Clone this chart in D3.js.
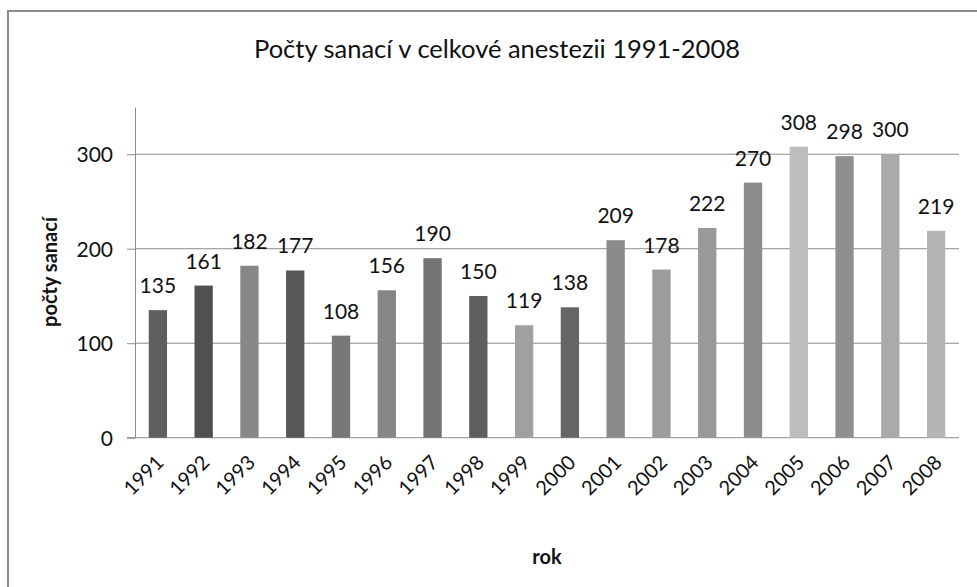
<!DOCTYPE html>
<html>
<head>
<meta charset="utf-8">
<script src="https://cdn.jsdelivr.net/npm/d3@7"></script>
<style>
  html, body { margin: 0; padding: 0; background: #fff; }
  svg { display: block; font-family: Lato, "Open Sans", sans-serif; }
</style>
</head>
<body>
<svg id="chart" width="977" height="587"></svg>
<script>
// Počty sanací v celkové anestezii, po letech
const years = ["1991","1992","1993","1994","1995","1996","1997","1998","1999",
               "2000","2001","2002","2003","2004","2005","2006","2007","2008"];
const counts = [135, 161, 182, 177, 108, 156, 190, 150, 119,
                138, 209, 178, 222, 270, 308, 298, 300, 219];
const barColors = ["#5f5f5f","#505050","#888888","#575757","#777777","#868686","#747474","#5e5e5e","#a0a0a0",
                   "#656565","#8a8a8a","#9c9c9c","#999999","#8c8c8c","#bdbdbd","#8f8f8f","#aaaaaa","#b5b5b5"];
const yTicks = [0, 100, 200, 300];

const titleText = "Počty sanací v celkové anestezii 1991-2008";
const yTitle = "počty sanací";
const xTitle = "rok";

const svg = d3.select("#chart");

// frame of the chart area
svg.append("line").attr("x1", 7).attr("x2", 977).attr("y1", 11).attr("y2", 11)
  .attr("stroke", "#8a8a8a").attr("stroke-width", 2);
svg.append("line").attr("x1", 8).attr("x2", 8).attr("y1", 10).attr("y2", 587)
  .attr("stroke", "#8a8a8a").attr("stroke-width", 2);

const plot = { left: 135, right: 959, top: 107, bottom: 437.7 };

const x = d3.scaleBand().domain(years)
  .range([plot.left, plot.right])
  .paddingInner(0.6).paddingOuter(0.3);
const y = d3.scaleLinear().domain([0, 350]).range([plot.bottom, plot.top]);

// horizontal gridlines
svg.append("g").selectAll("line").data(yTicks.filter(d => d > 0)).join("line")
  .attr("x1", plot.left).attr("x2", plot.right)
  .attr("y1", d => y(d)).attr("y2", d => y(d))
  .attr("stroke", "#8c8c8c").attr("stroke-width", 1);

// y axis
const yAxis = svg.append("g")
  .attr("transform", `translate(${plot.left},0)`)
  .call(d3.axisLeft(y).tickValues(yTicks).tickSize(8).tickPadding(14).tickSizeOuter(0));
yAxis.select(".domain").attr("stroke", "#8c8c8c");
yAxis.selectAll(".tick line").attr("stroke", "#8c8c8c");
yAxis.selectAll(".tick text")
  .attr("font-family", "Lato, sans-serif")
  .attr("font-size", 21).attr("fill", "#111").attr("dy", "0.36em");

// x axis line (extends left to the 0 tick)
svg.append("line")
  .attr("x1", plot.left - 8).attr("x2", plot.right)
  .attr("y1", y(0)).attr("y2", y(0))
  .attr("stroke", "#8c8c8c").attr("stroke-width", 1);

// bars
svg.append("g").selectAll("rect").data(counts).join("rect")
  .attr("x", (d, i) => x(years[i]))
  .attr("width", x.bandwidth())
  .attr("y", d => y(d))
  .attr("height", d => y(0) - y(d))
  .attr("fill", (d, i) => barColors[i]);

// value labels
svg.append("g").selectAll("text").data(counts).join("text")
  .attr("x", (d, i) => x(years[i]) + x.bandwidth() / 2)
  .attr("y", d => y(d) - 17)
  .attr("text-anchor", "middle")
  .attr("font-size", 21).attr("fill", "#111")
  .text(d => d);

// category labels, rotated
svg.append("g").selectAll("text").data(years).join("text")
  .attr("transform", d => `translate(${x(d) + x.bandwidth() / 2 + 7},${y(0) + 26}) rotate(-45)`)
  .attr("text-anchor", "end")
  .attr("font-size", 20).attr("fill", "#111")
  .text(d => d);

// title
svg.append("text")
  .attr("x", 497).attr("y", 58)
  .attr("text-anchor", "middle")
  .attr("font-size", 25.5).attr("fill", "#111")
  .text(titleText);

// axis titles
svg.append("text")
  .attr("transform", `translate(57,272) rotate(-90)`)
  .attr("text-anchor", "middle")
  .attr("font-size", 20).attr("font-weight", "bold").attr("fill", "#111")
  .text(yTitle);

svg.append("text")
  .attr("x", (plot.left + plot.right) / 2).attr("y", 564)
  .attr("text-anchor", "middle")
  .attr("font-size", 20).attr("font-weight", "bold").attr("fill", "#111")
  .text(xTitle);
</script>
</body>
</html>
